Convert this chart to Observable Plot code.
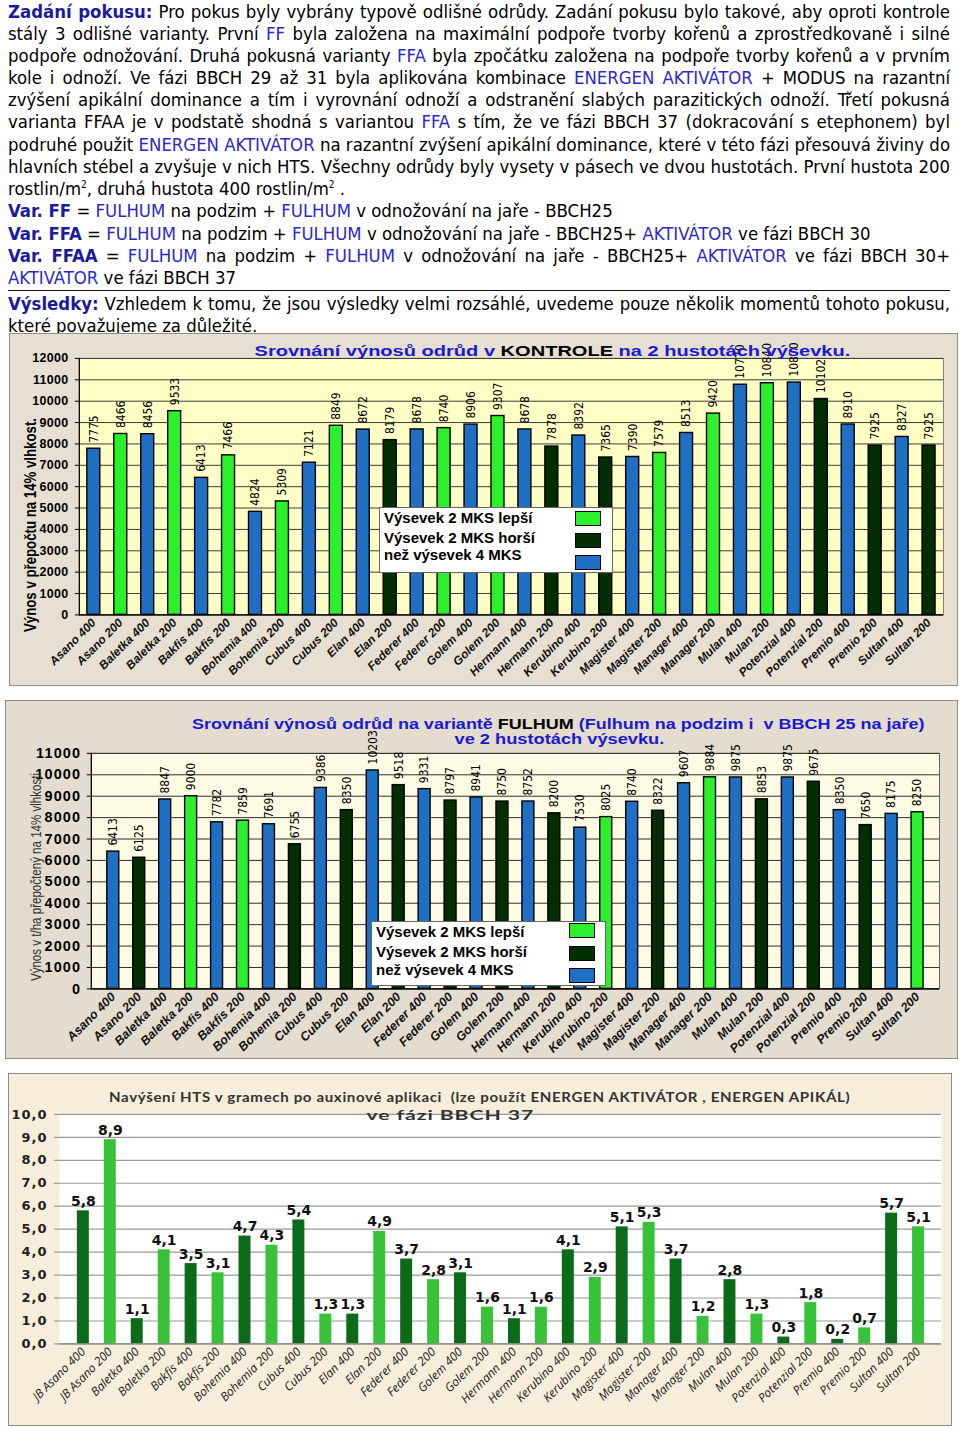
<!DOCTYPE html>
<html><head><meta charset="utf-8">
<script src="https://cdn.jsdelivr.net/npm/d3@7"></script>
<script src="https://cdn.jsdelivr.net/npm/@observablehq/plot@0.6"></script>
<style>
body{margin:0;width:960px;height:1431px;position:relative;background:#fff;overflow:hidden;}
.ln{position:absolute;left:8px;height:22px;line-height:22px;white-space:nowrap;font-family:"DejaVu Sans Condensed","DejaVu Sans",sans-serif;font-size:18.4px;color:#000;}
.h{color:#1b1b9e;font-weight:bold;}
.k{color:#2a2ac8;}
sup{font-size:10px;line-height:0;vertical-align:7px;}
#rule{position:absolute;left:8px;top:290px;width:942px;border-top:1.6px solid #111;}
.chart{position:absolute;box-sizing:border-box;border:1px solid #8c8c8c;overflow:hidden;}
.chart svg{position:absolute;left:0;top:0;}
.ttl{position:absolute;white-space:nowrap;transform-origin:center center;}
.legend{position:absolute;background:#fff;border:1px solid #666;box-sizing:border-box;}
.legend .t{position:absolute;left:4px;white-space:nowrap;font-family:"Liberation Sans",Arial,sans-serif;font-weight:bold;font-size:15px;color:#000;transform-origin:left center;}
.legend .s{position:absolute;width:26px;height:15px;border:1px solid #000;box-sizing:border-box;}
.c1 g[aria-label="y-axis tick label"] text{letter-spacing:0.3px;}
.c2 g[aria-label="y-axis tick label"] text{letter-spacing:1.2px;}
.c3 g[aria-label="y-axis tick label"] text{letter-spacing:1px;}
</style></head><body>
<script>
// ---------------- data ----------------
const categories = ["Asano 400","Asano 200","Baletka 400","Baletka 200","Bakfis 400","Bakfis 200","Bohemia 400","Bohemia 200","Cubus 400","Cubus 200","Elan 400","Elan 200","Federer 400","Federer 200","Golem 400","Golem 200","Hermann 400","Hermann 200","Kerubino 400","Kerubino 200","Magister 400","Magister 200","Manager 400","Manager 200","Mulan 400","Mulan 200","Potenzial 400","Potenzial 200","Premio 400","Premio 200","Sultan 400","Sultan 200"];
const categoriesHTS = ["JB Asano 400","JB Asano 200","Baletka 400","Baletka 200","Bakfis 400","Bakfis 200","Bohemia 400","Bohemia 200","Cubus 400","Cubus 200","Elan 400","Elan 200","Federer 400","Federer 200","Golem 400","Golem 200","Hermann 400","Hermann 200","Kerubino 400","Kerubino 200","Magister 400","Magister 200","Manager 400","Manager 200","Mulan 400","Mulan 200","Potenzial 400","Potenzial 200","Premio 400","Premio 200","Sultan 400","Sultan 200"];
const kontrolaValues = [7775,8466,8456,9533,6413,7466,4824,5309,7121,8849,8672,8179,8678,8740,8906,9307,8678,7878,8392,7365,7390,7579,8513,9420,10770,10840,10870,10102,8910,7925,8327,7925];
const fulhumValues = [6413,6125,8847,9000,7782,7859,7691,6755,9386,8350,10203,9518,9331,8797,8941,8750,8752,8200,7530,8025,8740,8322,9607,9884,9875,8853,9875,9675,8350,7650,8175,8250];
const htsValues = [5.8,8.9,1.1,4.1,3.5,3.1,4.7,4.3,5.4,1.3,1.3,4.9,3.7,2.8,3.1,1.6,1.1,1.6,4.1,2.9,5.1,5.3,3.7,1.2,2.8,1.3,0.3,1.8,0.2,0.7,5.7,5.1];
const kontrolaTicks = [0,1000,2000,3000,4000,5000,6000,7000,8000,9000,10000,11000,12000];
const fulhumTicks = [0,1000,2000,3000,4000,5000,6000,7000,8000,9000,10000,11000];
const htsTicks = [0,1,2,3,4,5,6,7,8,9,10];
const legendLabels = ["Výsevek 2 MKS lepší","Výsevek 2 MKS horší","než výsevek 4 MKS"];
const groupKeys = ["lepsi","horsi","v4"];

const BLUE = "#1f6fc4", GREEN = "#2cf02c", DARK = "#022e02";
const HTS_DARK = "#0c6b18", HTS_LIGHT = "#38c238";
const NARROW = "'Liberation Sans Narrow','DejaVu Sans Condensed',Arial,sans-serif";
const ARIAL = "'Liberation Sans',Arial,sans-serif";

// ---------------- text block ----------------
const lines = [
 [12,true,'<b class="h">Zadání pokusu:</b> Pro pokus byly vybrány typově odlišné odrůdy. Zadání pokusu bylo takové, aby oproti kontrole'],
 [34,true,'stály 3 odlišné varianty. První <span class="k">FF</span> byla založena na maximální podpoře tvorby kořenů a zprostředkovaně i silné'],
 [56,true,'podpoře odnožování. Druhá pokusná varianty <span class="k">FFA</span> byla zpočátku založena na podpoře tvorby kořenů a v prvním'],
 [78,true,'kole i odnoží. Ve fázi BBCH 29 až 31 byla aplikována kombinace <span class="k">ENERGEN AKTIVÁTOR</span> + MODUS na razantní'],
 [100,true,'zvýšení apikální dominance a tím i vyrovnání odnoží a odstranění slabých parazitických odnoží. Třetí pokusná'],
 [122,true,'varianta FFAA je v podstatě shodná s variantou <span class="k">FFA</span> s tím, že ve fázi BBCH 37 (dokracování s etephonem) byl'],
 [145,true,'podruhé použit <span class="k">ENERGEN AKTIVÁTOR</span> na razantní zvýšení apikální dominance, které v této fázi přesouvá živiny do'],
 [167,true,'hlavních stébel a zvyšuje v nich HTS. Všechny odrůdy byly vysety v pásech ve dvou hustotách. První hustota 200'],
 [189,false,'rostlin/m<sup>2</sup>, druhá hustota 400 rostlin/m<sup>2</sup> .'],
 [211,false,'<b class="h">Var. FF</b> = <span class="k">FULHUM</span> na podzim + <span class="k">FULHUM</span> v odnožování na jaře - BBCH25'],
 [234,false,'<b class="h">Var. FFA</b> = <span class="k">FULHUM</span> na podzim + <span class="k">FULHUM</span> v odnožování na jaře - BBCH25+ <span class="k">AKTIVÁTOR</span> ve fázi BBCH 30'],
 [256,true,'<b class="h">Var. FFAA</b> = <span class="k">FULHUM</span> na podzim + <span class="k">FULHUM</span> v odnožování na jaře - BBCH25+ <span class="k">AKTIVÁTOR</span> ve fázi BBCH 30+'],
 [278,false,'<span class="k">AKTIVÁTOR</span> ve fázi BBCH 37'],
 [304,true,'<b class="h">Výsledky:</b> Vzhledem k tomu, že jsou výsledky velmi rozsáhlé, uvedeme pouze několik momentů tohoto pokusu,'],
 [326,false,'které považujeme za důležité.']
];
for (const [cy, just, html] of lines) {
  const d = document.createElement("div");
  d.className = "ln";
  d.style.top = (cy - 11) + "px";
  d.innerHTML = html;
  document.body.appendChild(d);
  const w = d.getBoundingClientRect().width;
  if (just) {
    const spaces = (d.textContent.match(/ /g) || []).length;
    d.style.wordSpacing = ((942 - w) / spaces) + "px";
  } else if (w > 942) {
    d.style.transformOrigin = "left center";
    d.style.transform = "scaleX(" + (942 / w) + ")";
  }
}
const rule = document.createElement("div"); rule.id = "rule"; document.body.appendChild(rule);

// ---------------- helpers ----------------
function addText(parent, html, css, cx, cy, targetW, rotate) {
  const s = document.createElement("div");
  s.className = "ttl";
  s.innerHTML = html;
  Object.assign(s.style, css);
  s.style.left = "0px"; s.style.top = "0px";
  parent.appendChild(s);
  const w = s.offsetWidth, h = s.offsetHeight;
  const sx = targetW / w;
  s.style.left = (cx - w / 2) + "px";
  s.style.top = (cy - h / 2) + "px";
  s.style.transform = (rotate ? "rotate(-90deg) " : "") + "scaleX(" + sx + ")";
  return s;
}
function addLegend(parent, box, rowsY, swY, colors, widths) {
  const L = document.createElement("div");
  L.className = "legend";
  Object.assign(L.style, {left: box[0] + "px", top: box[1] + "px", width: box[2] + "px", height: box[3] + "px"});
  legendLabels.forEach((lab, i) => {
    const t = document.createElement("div");
    t.className = "t"; t.textContent = lab;
    L.appendChild(t);
    const h = 18;
    t.style.top = (rowsY[i] - h / 2) + "px"; t.style.height = h + "px"; t.style.lineHeight = h + "px";
    const w = t.offsetWidth;
    t.style.transform = "scaleX(" + (widths[i] / w) + ")";
    const s = document.createElement("div");
    s.className = "s";
    Object.assign(s.style, {left: box[4] + "px", top: swY[i] + "px", background: colors[i]});
    L.appendChild(s);
  });
  parent.appendChild(L);
}
function makeContainer(left, top, w, h, bg) {
  const c = document.createElement("div");
  c.className = "chart";
  Object.assign(c.style, {left: left + "px", top: top + "px", width: w + "px", height: h + "px", background: bg});
  document.body.appendChild(c);
  return c;
}

function yieldChart(cfg) {
  const data = categories.map((c, i) => ({
    cat: c, v: cfg.values[i],
    g: i % 2 === 0 ? "v4" : (cfg.values[i] > cfg.values[i - 1] ? "lepsi" : "horsi")
  }));
  return Plot.plot({
    className: cfg.cls,
    width: cfg.w, height: cfg.h,
    marginLeft: cfg.ml, marginRight: cfg.mr, marginTop: cfg.mt, marginBottom: cfg.mb,
    style: {background: "transparent", overflow: "visible", fontFamily: ARIAL, color: "#000"},
    x: {type: "band", domain: categories, paddingInner: cfg.pad, paddingOuter: cfg.pad / 2, label: null},
    y: {domain: [0, cfg.yMax], label: null},
    color: {type: "ordinal", domain: groupKeys, range: [GREEN, DARK, BLUE]},
    marks: [
      Plot.frame({fill: cfg.plotBg, stroke: cfg.frameStroke}),
      Plot.ruleY(cfg.ticks, {stroke: cfg.grid, strokeWidth: 1}),
      Plot.barY(data, {x: "cat", y: "v", fill: "g", stroke: "#000", strokeWidth: 1.4}),
      Plot.text(data, {x: "cat", y: "v", text: d => String(d.v), rotate: -90, textAnchor: "start", dy: -cfg.labelGap, fontSize: cfg.labelSize, fontFamily: NARROW, fill: "#000"}),
      Plot.ruleY([0], {stroke: "#000", strokeWidth: 1.2}),
      Plot.frame({anchor: "left", stroke: "#000", strokeWidth: 1.2}),
      Plot.axisY({ticks: cfg.ticks, label: null, tickSize: 4, tickPadding: cfg.tp, fontSize: cfg.tickFont, fontWeight: "bold", tickFormat: d => String(d), fill: "#000"}),
      Plot.axisX({label: null, tickRotate: -45, tickSize: 0, tickPadding: cfg.xtp, fontSize: cfg.xFont, fontStyle: "italic", fontWeight: "bold", fontFamily: ARIAL, fill: "#111"})
    ]
  });
}

// ---------------- chart 1: KONTROLA ----------------
const c1 = makeContainer(9, 333, 949, 353, "#e6dfd2");
c1.appendChild(yieldChart({
  cls: "c1", values: kontrolaValues, ticks: kontrolaTicks, yMax: 12000,
  w: 949, h: 353, ml: 69, mr: 14, mt: 24, mb: 72, pad: 0.52,
  plotBg: "#ffffc6", frameStroke: "#808080", grid: "#3c3c3c",
  labelGap: 6, labelSize: 12, tp: 7, tickFont: 12.5, xtp: 6, xFont: 12
}));
addText(c1, '<span style="color:#1a1ad0">Srovnání výnosů odrůd v </span><span style="color:#000">KONTROLE</span><span style="color:#1a1ad0"> na 2 hustotách výsevku.</span>',
  {fontFamily: ARIAL, fontWeight: "bold", fontSize: "15.5px"}, 542, 17, 596, false);
addText(c1, 'Výnos v přepočtu na 14% vlhkost.', {fontFamily: ARIAL, fontWeight: "bold", fontSize: "17px", color: "#000"}, 21, 191, 214, true);
addLegend(c1, [369, 173, 234, 66, 195], [10, 30, 47], [3, 25, 47], [GREEN, DARK, BLUE], [155, 158, 144]);

// ---------------- chart 2: FULHUM ----------------
const c2 = makeContainer(5, 700, 953, 359, "#e3dccf");
c2.appendChild(yieldChart({
  cls: "c2", values: fulhumValues, ticks: fulhumTicks, yMax: 11000,
  w: 953, h: 359, ml: 85, mr: 18, mt: 52, mb: 71, pad: 0.55,
  plotBg: "#fefbe4", frameStroke: "#606060", grid: "#303030",
  labelGap: 6, labelSize: 12, tp: 6, tickFont: 14.5, xtp: 6, xFont: 12.5
}));
addText(c2, '<span style="color:#1a1ad0">Srovnání výnosů odrůd na variantě </span><span style="color:#000">FULHUM</span><span style="color:#1a1ad0"> (Fulhum na podzim i&nbsp; v BBCH 25 na jaře)</span>',
  {fontFamily: ARIAL, fontWeight: "bold", fontSize: "14.5px"}, 552, 23, 733, false);
addText(c2, '<span style="color:#1a1ad0">ve 2 hustotách výsevku.</span>',
  {fontFamily: ARIAL, fontWeight: "bold", fontSize: "14.5px"}, 553, 38, 210, false);
addText(c2, 'Výnos v t/ha přepočtený na 14% vlhkosti', {fontFamily: ARIAL, fontSize: "14px", color: "#333"}, 30, 176, 208, true);
addLegend(c2, [365, 220, 235, 65, 197], [10, 30, 48], [1, 24, 46], [GREEN, DARK, BLUE], [157, 158, 145]);

// ---------------- chart 3: HTS ----------------
const c3 = makeContainer(8, 1073, 944, 353, "#f6eddb");
const htsData = categoriesHTS.map((c, i) => ({cat: c, v: htsValues[i], d: i % 2 === 0 ? "400" : "200"}));
c3.appendChild(Plot.plot({
  className: "c3",
  width: 944, height: 353, marginLeft: 50, marginRight: 10, marginTop: 40, marginBottom: 83,
  style: {background: "transparent", overflow: "visible", fontFamily: "'DejaVu Sans',Verdana,sans-serif", color: "#222"},
  x: {type: "band", domain: categoriesHTS, paddingInner: 0.57, paddingOuter: 0.285, label: null},
  y: {domain: [0, 10], label: null},
  color: {type: "ordinal", domain: ["400", "200"], range: [HTS_DARK, HTS_LIGHT]},
  marks: [
    Plot.frame({fill: "#ffffff"}),
    Plot.ruleY(htsTicks, {stroke: "#9a9a9a", strokeWidth: 1.2}),
    Plot.barY(htsData, {x: "cat", y: "v", fill: "d"}),
    Plot.text(htsData, {x: "cat", y: "v", text: d => d.v.toFixed(1).replace(".", ","), lineAnchor: "bottom", dy: -5, fontSize: 14, fontWeight: "bold", fill: "#111"}),
    Plot.ruleY([0], {stroke: "#888", strokeWidth: 1.2}),
    Plot.axisY({ticks: htsTicks, label: null, tickSize: 5, tickPadding: 7, fontSize: 13, fontWeight: "bold", tickFormat: d => d.toFixed(1).replace(".", ","), stroke: "#888", fill: "#222"}),
    Plot.axisX({label: null, tickRotate: -45, tickSize: 0, tickPadding: 6, fontSize: 12, fontStyle: "italic", fontFamily: "'Open Sans','Liberation Sans',sans-serif", fill: "#222"})
  ]
}));
addText(c3, 'Navýšení HTS v gramech po auxinové aplikaci&nbsp; (lze použít ENERGEN AKTIVÁTOR , ENERGEN APIKÁL)',
  {fontFamily: "Lato,'Open Sans',sans-serif", fontWeight: "bold", fontSize: "14px", color: "#333", letterSpacing: "0.6px"}, 470, 22, 741, false);
addText(c3, 've fázi BBCH 37',
  {fontFamily: "Lato,'Open Sans',sans-serif", fontWeight: "bold", fontSize: "14px", color: "#333", letterSpacing: "0.6px"}, 441, 40, 168, false);
</script>
</body></html>
